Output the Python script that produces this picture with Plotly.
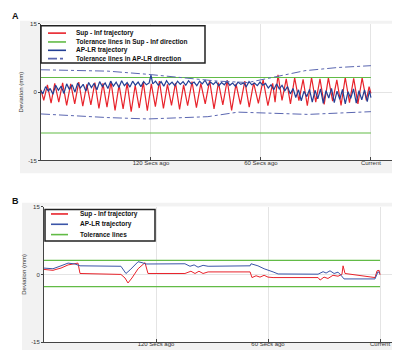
import plotly.graph_objects as go

# ---------------- Panel A data (time in s relative to current, deviation in mm)
a_red_t = [-180, -178.5, -176.5, -174.5, -172.5, -170.3, -168.2, -166.0, -163.8, -161.6, -159.4, -157.2,
           -155.0, -152.8, -150.6, -148.4, -146.2, -144.0, -141.8, -139.6, -137.4, -135.2, -133.0, -130.8,
           -128.6, -126.4, -124.2, -122.0, -119.8, -117.6, -115.4, -113.2, -111.0, -108.8, -106.6, -104.4,
           -102.2, -100.0, -97.6, -95.2, -92.8, -90.4, -88.0, -85.6, -83.2, -80.8, -78.4, -76.0, -73.6,
           -71.2, -68.8, -66.4, -64.0, -61.4, -58.8, -56.2, -53.6, -52.3, -50.7, -48.5, -46.2, -43.9,
           -41.6, -39.3, -37.0, -34.7, -32.4, -30.1, -27.8, -25.5, -23.2, -20.9, -18.6, -16.3, -14.0,
           -11.7, -9.4, -7.1, -4.8, -2.5, -1.0, 0]
a_red_v = [0.5, -1.8, 1.6, -2.4, 1.9, -2.2, 2.0, -2.9, 1.8, -2.6, 2.2, -3.1,
           1.7, -2.8, 2.1, -3.6, 1.9, -3.3, 2.3, -4.0, 1.6, -3.7, 2.0, -4.3,
           1.5, -3.5, 2.2, -4.1, 1.8, -3.2, 2.4, -3.6, 1.7, -2.9, 2.0, -3.8,
           1.6, -3.0, 2.3, -3.4, 1.9, -2.6, 2.5, -3.7, 2.1, -2.8, 2.6, -4.0, 1.8,
           -2.7, 2.4, -3.3, 2.0, -2.5, 2.7, -3.0, 1.9, -2.2, 3.8, -1.8, 2.9, -2.6,
           3.1, -1.9, 2.8, -3.0, 3.2, -2.2, 2.9, -2.7, 3.1, -2.0, 2.7, -2.9, 3.2,
           -2.3, 3.0, -2.6, 3.1, -1.8, 1.2, -0.3]

a_blue_t = [-180, -179, -177.5, -176, -175, -173.5, -172, -170.5, -169, -167.5, -166, -164.5, -163,
            -161.5, -160, -158.5, -157, -155.5, -154, -152.5, -151, -149.5, -148, -146.5, -145,
            -143.5, -142, -140.5, -139, -137.5, -136, -134.5, -133, -131.5, -130, -128.5, -127,
            -125.5, -124, -122.5, -121, -120, -119, -117.5, -116, -114.5, -113, -111.5, -110,
            -108.5, -107, -105.5, -104, -102.5, -101, -99.5, -98, -96.5, -95, -93.5, -92, -90.5,
            -89, -87.5, -86, -84.5, -83, -81.5, -80, -78.5, -77, -75.5, -74, -72.5, -71, -69.5,
            -68, -66.5, -65, -63.5, -62, -60.5, -59, -57.5, -56, -54.5, -53, -51.5, -50, -48.5,
            -47, -45.5, -44, -42.5, -41, -39.5, -38, -36.5, -35, -33.5, -32, -30.5, -29, -27.5,
            -26, -24.5, -23, -21.5, -20, -18.5, -17, -15.5, -14, -12.5, -11, -9.5, -8, -6.5, -5,
            -3.5, -2, -0.8, 0]
a_blue_v = [0.3, -0.4, 1.2, 0.2, 0.8, -0.5, 1.5, 0.4, 1.3, -0.3, 1.8, 0.6, 1.6,
            0.0, 2.0, 0.9, 1.7, 0.2, 2.1, 1.0, 1.9, 0.5, 2.3, 1.2, 2.0,
            0.8, 2.4, 1.3, 2.2, 1.0, 2.5, 1.4, 2.1, 1.1, 2.4, 1.5, 2.2,
            1.2, 2.3, 1.6, 2.0, 3.7, 1.8, 2.4, 1.5, 2.3, 1.3, 2.5, 1.6,
            2.2, 1.4, 2.4, 1.7, 2.3, 1.5, 2.5, 1.8, 2.2, 1.4, 2.4, 1.8, 2.6,
            1.5, 2.2, 1.7, 2.3, 1.4, 2.1, 1.6, 2.4, 1.5, 2.0, 1.3, 2.2, 1.7, 2.0,
            1.2, 2.3, 1.6, 2.0, 1.4, 2.2, 1.5, 1.9, 0.9, 1.6, 0.5, 1.8, 0.7, 1.5,
            0.3, 1.2, -0.4, 0.8, -1.2, 0.5, -1.9, 0.2, -1.0, 0.6, -2.2, 0.4, -1.5, 0.7,
            -2.5, 0.3, -1.3, 0.8, -2.3, 0.2, -1.6, 0.6, -2.6, 0.1, -1.4, 0.7, -2.4, 0.3, -1.7,
            0.5, -2.1, 0.3, -1.2]

a_tol_si = [3.2, -9.0]           # Sup-Inf tolerance lines (mm)
a_tol_ap_t = [-180, -143.5, -121.6, -99.8, -83.5, -67.1, -58.9, -50.7, -36, -18, 0]
a_tol_ap_up = [4.9, 4.6, 3.9, 3.1, 2.4, 2.1, 2.8, 3.5, 4.7, 5.4, 5.8]
a_tol_ap_lo_t = [-180, -143.5, -121.6, -89, -72.5, -56.2, -34.4, 0]
a_tol_ap_lo = [-4.8, -5.6, -5.9, -5.4, -4.4, -4.6, -4.9, -4.3]

# ---------------- Panel B data
b_red_t = [-180, -175.2, -173.6, -170.9, -167.1, -163.4, -161.8, -160.7, -138.8, -136.6, -135, -132.9,
           -129.6, -125.9, -124.3, -104.5, -101.3, -99.1, -97, -94.8, -92.1, -69.6, -68.6, -66.4,
           -64.3, -62.1, -60, -57.3, -33.2, -32.1, -30, -27.9, -25.2, -22.5, -20.4, -19.8, -18.75,
           -2.7, -1.6, -0.5, 0]
b_red_v = [1.1, 0.9, 1.1, 1.4, 2.1, 2.4, 2.5, 0.2, 0.0, -0.8, -1.9, -0.8,
           1.25, 2.6, 0.2, 0.2, 0.7, 0.2, 0.7, 0.2, 0.55, 0.55, -0.7, -0.3,
           -0.6, -0.2, -0.6, -0.7, -0.7, -1.25, -0.6, -0.9, -0.2, -0.4, 0.0, 1.9, 0.2,
           -0.7, 0.8, 0.9, -0.1]
b_blue_t = [-180, -175.2, -170.9, -167.1, -163.4, -160.7, -138.8, -136.1, -133.9, -129.6, -127.5, -125.4,
            -104.5, -101.8, -99.6, -97.5, -94.8, -92.1, -69.6, -69.1, -65.4, -62.1, -57.3, -54.6,
            -33.2, -30.5, -28.9, -26.8, -24.6, -22.5, -20.9, -19.3, -2.7, -1.1, 0]
b_blue_v = [1.4, 1.25, 1.9, 2.5, 2.3, 1.9, 1.8, 0.2, 1.0, 2.8, 2.6, 2.3,
            2.35, 1.8, 2.1, 1.6, 2.0, 1.8, 1.9, 2.35, 1.9, 1.25, 0.55, 0.1,
            0.05, 0.6, 0.3, 0.8, 0.2, 0.5, -0.2, -1.0, -1.0, 0.6, 0.2]
b_tol = [3.1, -2.7]

tick_vals = [-120, -60, 0]
tick_text = ["120 Secs ago", "60 Secs ago", "Current"]

legend_a_labels = ["Sup - Inf trajectory", "Tolerance lines in Sup - Inf direction",
                   "AP-LR trajectory", "Tolerance lines in AP-LR direction"]
legend_b_labels = ["Sup - Inf trajectory", "AP-LR trajectory", "Tolerance lines"]

RED = "#e8232b"
BLUE = "#233f94"
BLUE_B = "#3b55a8"
GREEN = "#62bb46"
DASH = "#5a66b0"

W, H = 400, 350
def px(x):
    return x / W
def py(y):
    return 1 - y / H

fig = go.Figure()

# Panel A
fig.add_trace(go.Scatter(x=a_red_t, y=a_red_v, mode="lines", line=dict(color=RED, width=1.2),
                         name=legend_a_labels[0], xaxis="x", yaxis="y"))
fig.add_trace(go.Scatter(x=[-180, 0, None, -180, 0], y=[a_tol_si[0], a_tol_si[0], None, a_tol_si[1], a_tol_si[1]],
                         mode="lines", line=dict(color=GREEN, width=1.1),
                         name=legend_a_labels[1], xaxis="x", yaxis="y"))
fig.add_trace(go.Scatter(x=a_blue_t, y=a_blue_v, mode="lines", line=dict(color=BLUE, width=1.2),
                         name=legend_a_labels[2], xaxis="x", yaxis="y"))
fig.add_trace(go.Scatter(x=a_tol_ap_t + [None] + a_tol_ap_lo_t, y=a_tol_ap_up + [None] + a_tol_ap_lo,
                         mode="lines", line=dict(color=DASH, width=1, dash="dashdot"),
                         name=legend_a_labels[3], xaxis="x", yaxis="y"))

# Panel B
fig.add_trace(go.Scatter(x=b_red_t, y=b_red_v, mode="lines", line=dict(color=RED, width=1),
                         name=legend_b_labels[0], xaxis="x2", yaxis="y2"))
fig.add_trace(go.Scatter(x=b_blue_t, y=b_blue_v, mode="lines", line=dict(color=BLUE_B, width=1),
                         name=legend_b_labels[1], xaxis="x2", yaxis="y2"))
fig.add_trace(go.Scatter(x=[-180, 0, None, -180, 0], y=[b_tol[0], b_tol[0], None, b_tol[1], b_tol[1]],
                         mode="lines", line=dict(color=GREEN, width=1.1),
                         name=legend_b_labels[2], xaxis="x2", yaxis="y2"))

axis_font = dict(family="Liberation Sans", size=6, color="#333")
common_x = dict(tickvals=tick_vals, ticktext=tick_text, showgrid=True, gridcolor="#e4e4e4", gridwidth=1,
                showline=True, linecolor="#444", linewidth=1, ticks="inside", ticklen=3, tickcolor="#444",
                tickfont=axis_font, zeroline=False, fixedrange=True)
common_y = dict(range=[-15, 15], tickvals=[-15, 0, 15], ticktext=["-15", "0", "15"], showgrid=True,
                gridcolor="#e4e4e4", showline=True, linecolor="#444", linewidth=1, ticks="outside",
                ticklen=2, tickcolor="#444", tickfont=axis_font, zeroline=False,
                title=dict(text="Deviation (mm)", font=dict(family="Liberation Sans", size=6, color="#333"),
                           standoff=4))

B_TOP, B_BOT = 199, 337

shapes = [
    # light grey panel frames
    dict(type="rect", xref="paper", yref="paper", x0=px(12), x1=px(398), y0=py(165), y1=py(10),
         fillcolor="#f2f2f2", line=dict(width=0), layer="below"),
    dict(type="rect", xref="paper", yref="paper", x0=px(14), x1=px(398), y0=py(350), y1=py(195),
         fillcolor="#f2f2f2", line=dict(width=0), layer="below"),
    # white plotting areas
    dict(type="rect", xref="paper", yref="paper", x0=px(33), x1=px(395), y0=py(152), y1=py(13),
         fillcolor="white", line=dict(width=0), layer="below"),
    dict(type="rect", xref="paper", yref="paper", x0=px(36), x1=px(395), y0=py(B_BOT), y1=py(B_TOP),
         fillcolor="white", line=dict(width=0), layer="below"),
    # legend boxes
    dict(type="rect", xref="paper", yref="paper", x0=px(33), x1=px(197), y0=py(53), y1=py(15),
         fillcolor="white", line=dict(color="#222", width=1.5), layer="above"),
    dict(type="rect", xref="paper", yref="paper", x0=px(37), x1=px(147), y0=py(234), y1=py(202),
         fillcolor="white", line=dict(color="#222", width=1.5), layer="above"),
]
annotations = [
    dict(text="<b>A</b>", x=px(2), y=py(5), xref="paper", yref="paper", xanchor="left",
         yanchor="middle", showarrow=False, font=dict(family="Liberation Sans", size=9, color="#111")),
    dict(text="<b>B</b>", x=px(2), y=py(193), xref="paper", yref="paper", xanchor="left",
         yanchor="middle", showarrow=False, font=dict(family="Liberation Sans", size=9, color="#111")),
]

legend_font = dict(family="Liberation Sans", size=6.5, color="#111")
a_rows = [22.5, 31.5, 40, 48.5]
a_styles = [(RED, "solid"), (GREEN, "solid"), (BLUE, "solid"), (DASH, "dashdot")]
for lbl, yy, (col, dash) in zip(legend_a_labels, a_rows, a_styles):
    shapes.append(dict(type="line", xref="paper", yref="paper", x0=px(40), x1=px(58), y0=py(yy), y1=py(yy),
                       line=dict(color=col, width=1.6, dash=dash), layer="above"))
    annotations.append(dict(text="<b>" + lbl + "</b>", x=px(66), y=py(yy), xref="paper", yref="paper",
                            xanchor="left", yanchor="middle", showarrow=False, font=legend_font))
b_rows = [206.5, 217, 227.5]
b_styles = [RED, BLUE_B, GREEN]
for lbl, yy, col in zip(legend_b_labels, b_rows, b_styles):
    shapes.append(dict(type="line", xref="paper", yref="paper", x0=px(43), x1=px(60), y0=py(yy), y1=py(yy),
                       line=dict(color=col, width=1.6), layer="above"))
    annotations.append(dict(text="<b>" + lbl + "</b>", x=px(70), y=py(yy), xref="paper", yref="paper",
                            xanchor="left", yanchor="middle", showarrow=False, font=legend_font))

fig.update_layout(
    width=W, height=H, margin=dict(l=0, r=0, t=0, b=0),
    paper_bgcolor="white", plot_bgcolor="rgba(0,0,0,0)", showlegend=False,
    xaxis=dict(domain=[px(33), px(395)], range=[-180, 17.5], anchor="y", ticklabelstandoff=-4, **common_x),
    yaxis=dict(domain=[py(152), py(13)], anchor="x", **common_y),
    xaxis2=dict(domain=[px(36), px(395)], range=[-180, 12.3], anchor="y2", ticklabelstandoff=-4, **common_x),
    yaxis2=dict(domain=[py(B_BOT), py(B_TOP)], anchor="x2", **common_y),
    shapes=shapes,
    annotations=annotations,
)

fig.write_html("out.html")
